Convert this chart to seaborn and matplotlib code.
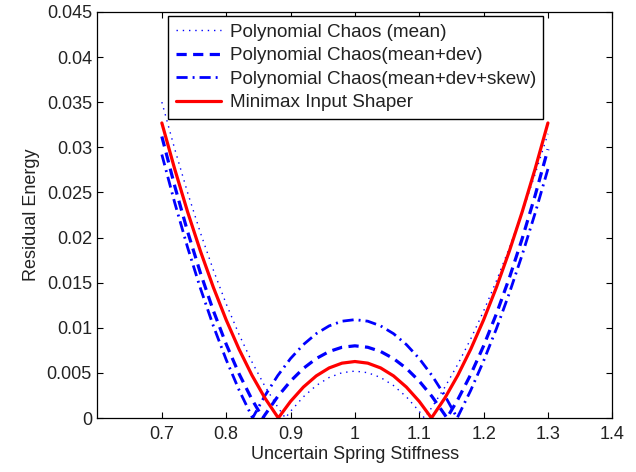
import matplotlib
matplotlib.use("Agg")
import matplotlib.pyplot as plt
import matplotlib.ticker as mticker
import seaborn as sns
import pandas as pd

# ---------------- data ----------------
x_mean = [0.70, 0.72, 0.74, 0.76, 0.78, 0.80, 0.82, 0.84, 0.86, 0.88, 0.892,
          0.90, 0.92, 0.94, 0.96, 0.98, 1.00, 1.02, 1.04, 1.06, 1.08, 1.10,
          1.108, 1.12, 1.14, 1.16, 1.18, 1.20, 1.22, 1.24, 1.26, 1.28, 1.30]
y_mean = [0.03501, 0.02982, 0.02499, 0.02052, 0.01641, 0.01265, 0.00926, 0.00622, 0.00354, 0.00122, 0.0,
          0.00074, 0.00235, 0.00360, 0.00449, 0.00502, 0.00520, 0.00502, 0.00449, 0.00360, 0.00235, 0.00074,
          0.0, 0.00121, 0.00344, 0.00596, 0.00876, 0.01185, 0.01521, 0.01886, 0.02279, 0.02701, 0.03150]

x_dev = [0.70, 0.72, 0.74, 0.76, 0.78, 0.80, 0.82, 0.84, 0.857,
         0.86, 0.88, 0.90, 0.92, 0.94, 0.96, 0.98, 1.00, 1.02, 1.04, 1.06, 1.08, 1.10, 1.12, 1.14,
         1.143, 1.16, 1.18, 1.20, 1.22, 1.24, 1.26, 1.28, 1.30]
y_dev = [0.03120, 0.02571, 0.02066, 0.01606, 0.01190, 0.00818, 0.00490, 0.00206, 0.0,
         0.00033, 0.00237, 0.00409, 0.00550, 0.00659, 0.00737, 0.00784, 0.00800, 0.00784, 0.00737,
         0.00659, 0.00550, 0.00409, 0.00237, 0.00033,
         0.0, 0.00205, 0.00482, 0.00799, 0.01156, 0.01552, 0.01988, 0.02464, 0.02979]

x_skew = [0.70, 0.72, 0.74, 0.76, 0.78, 0.80, 0.82, 0.841,
          0.86, 0.88, 0.90, 0.92, 0.94, 0.96, 0.98, 1.00, 1.02, 1.04, 1.06, 1.08, 1.10, 1.12, 1.14,
          1.159, 1.18, 1.20, 1.22, 1.24, 1.26, 1.28, 1.30]
y_skew = [0.02920, 0.02386, 0.01891, 0.01436, 0.01021, 0.00646, 0.00310, 0.0,
          0.00245, 0.00469, 0.00659, 0.00814, 0.00935, 0.01021, 0.01073, 0.01090, 0.01073, 0.01021,
          0.00935, 0.00814, 0.00659, 0.00469, 0.00245,
          0.0, 0.00306, 0.00632, 0.00991, 0.01383, 0.01809, 0.02268, 0.02760]

x_minimax = [0.70, 0.72, 0.74, 0.76, 0.78, 0.80, 0.82, 0.84, 0.86, 0.881,
             0.90, 0.92, 0.94, 0.96, 0.98, 1.00, 1.02, 1.04, 1.06, 1.08, 1.10,
             1.119, 1.14, 1.16, 1.18, 1.20, 1.22, 1.24, 1.26, 1.28, 1.30]
y_minimax = [0.03270, 0.02759, 0.02285, 0.01849, 0.01449, 0.01087, 0.00762, 0.00474, 0.00223, 0.0,
             0.00184, 0.00343, 0.00467, 0.00555, 0.00608, 0.00626, 0.00608, 0.00555, 0.00467, 0.00343, 0.00184,
             0.0, 0.00223, 0.00474, 0.00762, 0.01087, 0.01449, 0.01849, 0.02285, 0.02759, 0.03270]

labels = ["Polynomial Chaos (mean)", "Polynomial Chaos(mean+dev)",
          "Polynomial Chaos(mean+dev+skew)", "Minimax Input Shaper"]

x_ticks = [0.7, 0.8, 0.9, 1.0, 1.1, 1.2, 1.3, 1.4]
x_ticklabels = ["0.7", "0.8", "0.9", "1", "1.1", "1.2", "1.3", "1.4"]
y_ticks = [0, 0.005, 0.01, 0.015, 0.02, 0.025, 0.03, 0.035, 0.04, 0.045]
y_ticklabels = ["0", "0.005", "0.01", "0.015", "0.02", "0.025", "0.03", "0.035", "0.04", "0.045"]

# ---------------- style ----------------
sns.set_style("ticks")
plt.rcParams["font.family"] = ["Liberation Sans", "DejaVu Sans"]
plt.rcParams["font.size"] = 13

fig = plt.figure(figsize=(6.36, 4.72), dpi=100)
ax = fig.add_axes([0.1533, 0.1144, 0.8094, 0.8602])

df_mean = pd.DataFrame({"x": x_mean, "y": y_mean})
df_dev = pd.DataFrame({"x": x_dev, "y": y_dev})
df_skew = pd.DataFrame({"x": x_skew, "y": y_skew})
df_mm = pd.DataFrame({"x": x_minimax, "y": y_minimax})

l1 = sns.lineplot(data=df_mean, x="x", y="y", ax=ax, color=(0, 0, 1), lw=1.0, label=labels[0]).lines[-1]
l1.set_dashes((1, 3.5))
l2 = sns.lineplot(data=df_dev, x="x", y="y", ax=ax, color=(0, 0, 1), lw=2.3, label=labels[1]).lines[-1]
l2.set_dashes((3.2, 2.0))
l3 = sns.lineplot(data=df_skew, x="x", y="y", ax=ax, color=(0, 0, 1), lw=2.0, label=labels[2]).lines[-1]
l3.set_dashes((4.0, 1.8, 0.7, 1.8))
sns.lineplot(data=df_mm, x="x", y="y", ax=ax, color=(1, 0, 0), lw=2.3, label=labels[3])

ax.set_xlim(0.6, 1.4)
ax.set_ylim(0, 0.045)
ax.xaxis.set_major_locator(mticker.FixedLocator(x_ticks))
ax.xaxis.set_major_formatter(mticker.FixedFormatter(x_ticklabels))
ax.yaxis.set_major_locator(mticker.FixedLocator(y_ticks))
ax.yaxis.set_major_formatter(mticker.FixedFormatter(y_ticklabels))
ax.tick_params(direction="in", length=4, width=0.8, top=True, right=True,
               labelsize=13, colors="black", labelcolor="#222222")
ax.tick_params(axis="x", pad=6)
ax.tick_params(axis="y", pad=4)
for s in ax.spines.values():
    s.set_visible(True)
    s.set_linewidth(0.9)
    s.set_color("black")

ax.set_xlabel("Uncertain Spring Stiffness", fontsize=13, color="#222222", labelpad=2)
ax.set_ylabel("Residual Energy", fontsize=13, color="#222222", labelpad=5)

leg = ax.legend(loc="upper left", bbox_to_anchor=(0.1375, 0.99), borderaxespad=0,
                fancybox=False, framealpha=1, edgecolor="black", fontsize=13.6,
                handlelength=2.4, handletextpad=0.45, labelspacing=0.33, borderpad=0.4)
leg.get_frame().set_linewidth(1.0)
for t in leg.get_texts():
    t.set_color("#222222")

fig.savefig("out.png", dpi=100)
